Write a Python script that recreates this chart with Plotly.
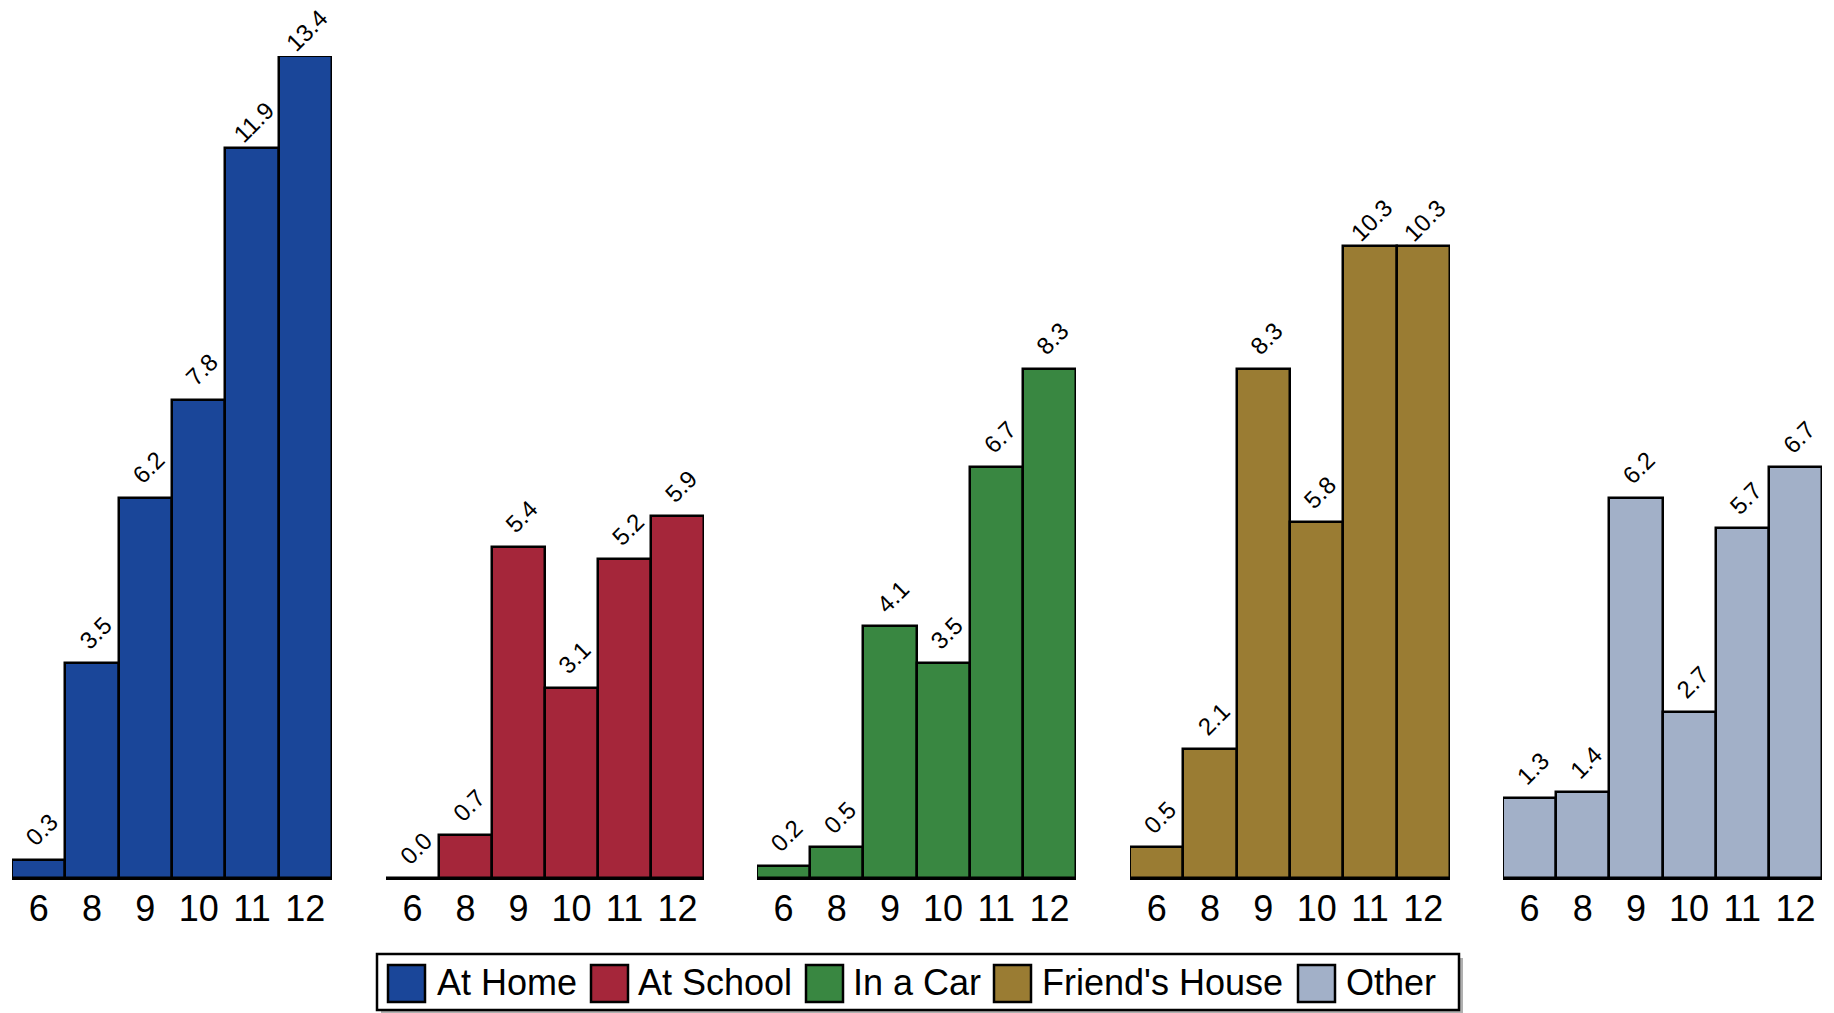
import plotly.graph_objects as go

grades = ["6", "8", "9", "10", "11", "12"]
series_names = ["At Home", "At School", "In a Car", "Friend's House", "Other"]
at_home = [0.3, 3.5, 6.2, 7.8, 11.9, 13.4]
at_school = [0.0, 0.7, 5.4, 3.1, 5.2, 5.9]
in_a_car = [0.2, 0.5, 4.1, 3.5, 6.7, 8.3]
friends_house = [0.5, 2.1, 8.3, 5.8, 10.3, 10.3]
other = [1.3, 1.4, 6.2, 2.7, 5.7, 6.7]
series_values = [at_home, at_school, in_a_car, friends_house, other]
colors = ["#1a4699", "#a5263a", "#398741", "#9a7c33", "#a2b0c8"]

W, H = 1834, 1013
ML, MR, MT, MB = 0, 0, 56, 135
PW = W - ML - MR
PH = H - MT - MB
FONT = "Liberation Sans, Arial, sans-serif"

def fx(px):
    return (px - ML) / PW

def fy(py):
    return (H - MB - py) / PH

panel_px = [(12, 332), (386, 704), (757, 1076), (1130, 1450), (1503, 1822)]

fig = go.Figure()
annotations = []
for i, (name, vals, col) in enumerate(zip(series_names, series_values, colors)):
    ax = "" if i == 0 else str(i + 1)
    fig.add_trace(go.Bar(
        x=grades, y=vals, name=name,
        marker=dict(color=col, line=dict(color="black", width=2.5)),
        cliponaxis=False, showlegend=False,
        xaxis="x" + ax, yaxis="y",
    ))
    for j, v in enumerate(vals):
        label = f"{v:.1f}"
        extra = len(label) - 3  # longer labels hang slightly lower/left (end-anchored look)
        annotations.append(dict(
            x=j, y=v, xref="x" + ax, yref="y", text=label,
            textangle=-45, xanchor="center", yanchor="middle",
            showarrow=False, yshift=30 - 4 * extra, xshift=3 - 2 * extra,
            font=dict(size=24, color="black", family=FONT),
        ))
    lo, hi = panel_px[i]
    fig.layout["xaxis" + ax] = dict(
        domain=[fx(lo), fx(hi)], anchor="y", type="category",
        range=[-0.5, 5.5], showline=True, linecolor="black", linewidth=2,
        showgrid=False, zeroline=False, ticks="", ticklabelstandoff=-2,
        tickfont=dict(size=36, color="black", family=FONT),
        fixedrange=True,
    )

fig.update_layout(
    yaxis=dict(range=[0, 13.4], visible=False, showgrid=False, zeroline=False, fixedrange=True),
    bargap=0, width=W, height=H,
    margin=dict(l=ML, r=MR, t=MT, b=MB),
    plot_bgcolor="white", paper_bgcolor="white",
    font=dict(family=FONT, color="black"),
)

# custom legend
shapes = []
box = (377, 954, 1459, 1010)
shapes.append(dict(type="rect", xref="paper", yref="paper",
                   x0=fx(box[0] + 4), x1=fx(box[2] + 4), y0=fy(box[3] + 4), y1=fy(box[1] + 4),
                   fillcolor="#b0b0b0", line=dict(width=0), layer="above"))
shapes.append(dict(type="rect", xref="paper", yref="paper",
                   x0=fx(box[0]), x1=fx(box[2]), y0=fy(box[3]), y1=fy(box[1]),
                   fillcolor="white", line=dict(color="black", width=2.5), layer="above"))
swatch_left = [388, 591, 806, 994, 1298]
text_left = [435, 636, 851, 1040, 1344]
for name, col, sl, tl in zip(series_names, colors, swatch_left, text_left):
    shapes.append(dict(type="rect", xref="paper", yref="paper",
                       x0=fx(sl), x1=fx(sl + 37), y0=fy(1002), y1=fy(965),
                       fillcolor=col, line=dict(color="black", width=2.5), layer="above"))
    annotations.append(dict(text=name, xref="paper", yref="paper", x=fx(tl), y=fy(982),
                            xanchor="left", yanchor="middle", showarrow=False,
                            font=dict(size=36, color="black", family=FONT)))
fig.update_layout(shapes=shapes, annotations=annotations)

fig.write_html("out.html", config={"displayModeBar": False},
               post_script="document.body.style.margin='0';document.body.style.overflow='hidden';")
